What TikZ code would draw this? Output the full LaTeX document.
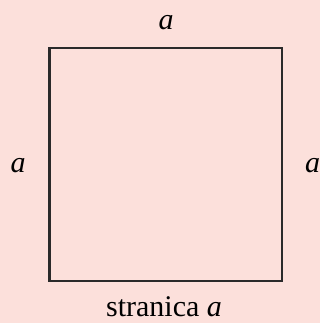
\documentclass[tikz,border=0pt]{standalone}
\usepackage{fontspec}
\setmainfont{Liberation Serif}
\definecolor{bgpink}{HTML}{FCE0DB}
\definecolor{linegray}{HTML}{2A2A2A}
\newcommand{\va}{\textit{a}}
\begin{document}
\begin{tikzpicture}[x=1pt,y=-1pt,
  lbl/.style={inner sep=0pt, font=\fontsize{30}{32}\selectfont, text=black}]
\fill[bgpink] (0,0) rectangle (320,323);
\useasboundingbox (0,0) rectangle (320,323);
\coordinate (tl) at (49.5,48);
\coordinate (br) at (282,281);
\draw[linegray, line width=2.2pt] (tl) rectangle (br);
\node[lbl, anchor=base] (top) at (166,30) {\va};
\node[lbl, anchor=base] (left) at (18,172) {\va};
\node[lbl, anchor=base west] (right) at (305,172) {\va};
\node[lbl, anchor=base] (bottom) at (164,316.5) {stranica \va};
\end{tikzpicture}
\end{document}
